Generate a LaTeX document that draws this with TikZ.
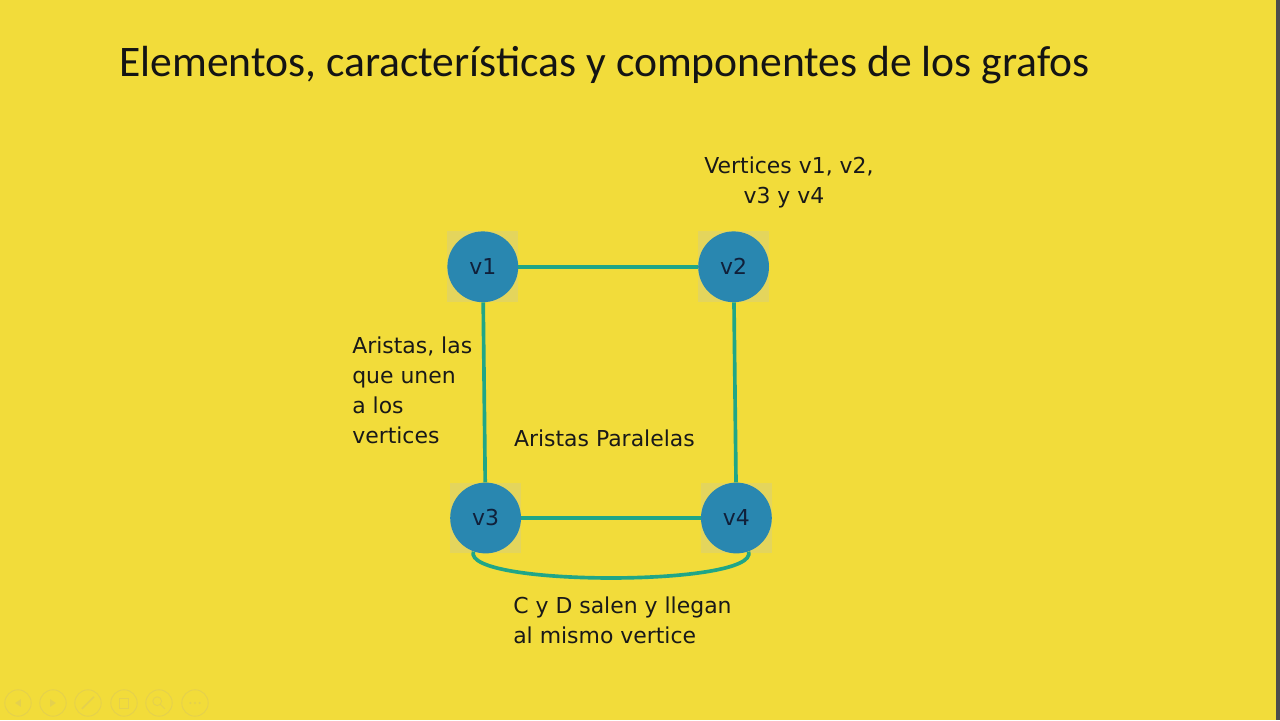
\documentclass[tikz,border=0pt]{standalone}
\usepackage{fontspec}
\setmainfont{DejaVu Sans}
\newfontfamily\titlefont{Carlito}
\usepackage{xcolor}
\definecolor{slidebg}{HTML}{F2DC3A}
\definecolor{halocol}{HTML}{E4D55C}
\definecolor{vtxblue}{HTML}{2987B0}
\definecolor{vtxtext}{HTML}{10203A}
\definecolor{edgecol}{HTML}{20A687}
\definecolor{iconcol}{HTML}{E4D04E}
\tikzset{
  vertex/.style={circle,fill=vtxblue,text=vtxtext,minimum size=1.77cm,inner sep=0,font=\fontsize{15.6}{19}\selectfont},
  halo/.style={rectangle,fill=halocol,minimum size=1.77cm,inner sep=0},
  edge/.style={draw=edgecol,line width=2.6pt},
  lbl/.style={inner sep=0,text=black!90,font=\fontsize{15.6}{21.3}\selectfont},
  icon/.style={draw=iconcol,line width=0.6pt}
}
\begin{document}
\begin{tikzpicture}
\useasboundingbox (0,0) rectangle (32,18);
\fill[slidebg] (0,0) rectangle (32,18);
\fill[black!70] (31.9,0) rectangle (32,18);
% title
\node[inner sep=0,anchor=base west,text=black!92,font=\titlefont\fontsize{31}{37}\selectfont] (title) at (2.975,16.075) {Elementos, características y componentes de los grafos};
% vertices
\foreach \n/\x/\y in {v1/12.07/11.33, v2/18.34/11.33, v3/12.14/5.05, v4/18.41/5.05} {
  \node[halo] at (\x,\y) {};
  \node[vertex] (\n) at (\x,\y) {\n};
}
% aristas
\draw[edge] (v1) -- (v2);
\draw[edge] (v1) -- (v3);
\draw[edge] (v2) -- (v4);
\draw[edge] (v3) -- (v4);
\draw[edge] (v3.250) .. controls (11.55,3.33) and (19.0,3.33) .. (v4.290);
% textos
\node[lbl,align=center] (vertlbl) at (19.725,13.45) {Vertices v1, v2,\\v3 y v4\hspace*{0.25cm}};
\node[lbl,align=left,anchor=west] (arislbl) at (8.8,8.25) {Aristas, las\\que unen\\a los\\vertices};
\node[lbl] (parlbl) at (15.11,7.05) {Aristas Paralelas};
\node[lbl,align=left,anchor=west] (buclelbl) at (12.825,2.5) {C y D salen y llegan\\al mismo vertice};
% controles
\foreach \i/\x in {1/0.45,2/1.325,3/2.2,4/3.1,5/3.975,6/4.875}
  \draw[icon] (\x,0.425) circle (0.33);
\fill[iconcol] (0.38,0.425) -- (0.52,0.52) -- (0.52,0.33) -- cycle;
\fill[iconcol] (1.395,0.425) -- (1.255,0.52) -- (1.255,0.33) -- cycle;
\draw[icon,line width=1.2pt] (2.05,0.28) -- (2.35,0.58);
\draw[icon] (2.98,0.3) rectangle (3.22,0.55);
\draw[icon] (3.93,0.47) circle (0.11) (4.01,0.39) -- (4.12,0.28);
\foreach \d in {4.76,4.875,4.99} \fill[iconcol] (\d,0.425) circle (0.03);
\end{tikzpicture}
\end{document}
